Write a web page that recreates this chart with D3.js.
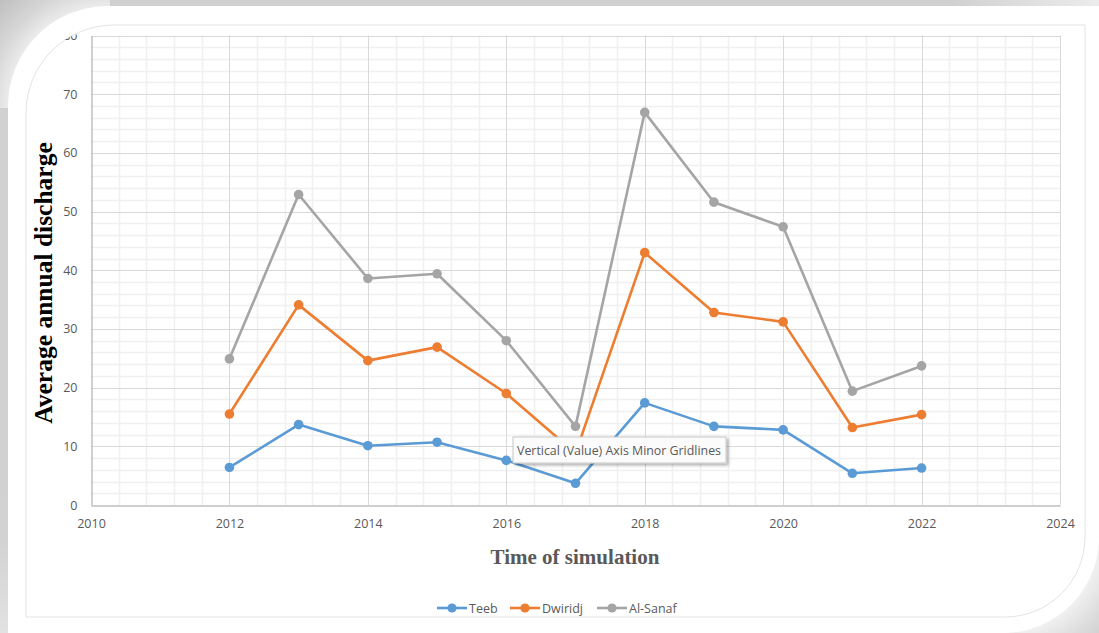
<!DOCTYPE html>
<html>
<head>
<meta charset="utf-8">
<script src="https://cdn.jsdelivr.net/npm/d3@7/dist/d3.min.js"></script>
<style>
  html, body { margin: 0; padding: 0; background: #ffffff; }
  svg { display: block; }
</style>
</head>
<body>
<svg id="chart" width="1099" height="633"></svg>
<script>
// Simulation years and average annual discharge per station
const years   = [2012, 2013, 2014, 2015, 2016, 2017, 2018, 2019, 2020, 2021, 2022];
const teeb    = [6.4, 13.7, 10.1, 10.7, 7.6, 3.7, 17.4, 13.4, 12.8, 5.4, 6.3];
const dwiridj = [15.5, 34.1, 24.6, 26.9, 19.0, 8.8, 43.0, 32.8, 31.2, 13.2, 15.4];
const alSanaf = [24.9, 52.9, 38.6, 39.4, 28.0, 13.4, 66.9, 51.6, 47.4, 19.4, 23.7];
const seriesNames = ["Teeb", "Dwiridj", "Al-Sanaf"];
const xTicks = [2010, 2012, 2014, 2016, 2018, 2020, 2022, 2024];
const yTicks = [0, 10, 20, 30, 40, 50, 60, 70, 80];

const colors = ["#5B9BD5", "#ED7D31", "#A5A5A5"];
const seriesValues = [teeb, dwiridj, alSanaf];

const svg = d3.select("#chart");
const W = 1099, H = 633;
const defs = svg.append("defs");

// ---- frame background ----
const gLeft = defs.append("linearGradient").attr("id", "leftBand")
  .attr("x1", 0).attr("x2", 0).attr("y1", 0).attr("y2", 1);
gLeft.append("stop").attr("offset", 0).attr("stop-color", "#d0d0d0");
gLeft.append("stop").attr("offset", 0.85).attr("stop-color", "#d2d2d2");
gLeft.append("stop").attr("offset", 1).attr("stop-color", "#e2e2e2");
svg.append("rect").attr("width", W).attr("height", H).attr("fill", "url(#leftBand)");

const gTL = defs.append("radialGradient").attr("id", "cornerTL")
  .attr("gradientUnits", "userSpaceOnUse").attr("cx", 108).attr("cy", 106).attr("r", 150);
gTL.append("stop").attr("offset", 0.66).attr("stop-color", "#ececec");
gTL.append("stop").attr("offset", 0.8).attr("stop-color", "#d6d6d6");
gTL.append("stop").attr("offset", 1).attr("stop-color", "#c0c0c0");
svg.append("rect").attr("x", 0).attr("y", 0).attr("width", 110).attr("height", 108)
  .attr("fill", "url(#cornerTL)");

const gBR = defs.append("radialGradient").attr("id", "cornerBR")
  .attr("gradientUnits", "userSpaceOnUse").attr("cx", 1003).attr("cy", 538).attr("r", 150);
gBR.append("stop").attr("offset", 0.62).attr("stop-color", "#f2f2f2");
gBR.append("stop").attr("offset", 0.8).attr("stop-color", "#dcdcdc");
gBR.append("stop").attr("offset", 1).attr("stop-color", "#c8c8c8");
svg.append("rect").attr("x", 960).attr("y", 500).attr("width", 139).attr("height", 133)
  .attr("fill", "url(#cornerBR)");

// lighter fade of the top band towards the right
const gTop = defs.append("linearGradient").attr("id", "topBand")
  .attr("x1", 0).attr("x2", 1).attr("y1", 0).attr("y2", 0);
gTop.append("stop").attr("offset", 0).attr("stop-color", "#d0d0d0");
gTop.append("stop").attr("offset", 0.85).attr("stop-color", "#d0d0d0");
gTop.append("stop").attr("offset", 1).attr("stop-color", "#ececec");
svg.append("rect").attr("x", 110).attr("y", 0).attr("width", W - 110).attr("height", 6)
  .attr("fill", "url(#topBand)");

// white card with rounded corners
svg.append("path")
  .attr("d", "M8,106 A100,100 0 0 1 108,6 L1099,6 L1099,540 A96,96 0 0 1 1005,633 L8,633 Z")
  .attr("fill", "#ffffff");

// thin inner border
const innerPath = "M26,113 A88,88 0 0 1 114,25 L1085,25 L1085,537 A80,80 0 0 1 1005,617 L26,617 Z";
svg.append("path").attr("d", innerPath).attr("fill", "none")
  .attr("stroke", "#e3e3e3").attr("stroke-width", 1);

defs.append("clipPath").attr("id", "innerClip").append("path").attr("d", innerPath);
defs.append("clipPath").attr("id", "topClip").append("rect")
  .attr("x", -200).attr("y", 34.5).attr("width", W + 200).attr("height", H);

// ---- scales ----
const x = d3.scaleLinear().domain([2010, 2024]).range([91, 1060]);
const y = d3.scaleLinear().domain([0, 80]).range([505, 35.5]);

const plot = svg.append("g").attr("clip-path", "url(#innerClip)");

// minor gridlines
const xMinor = d3.range(2010, 2024.001, 0.4).filter(v => Math.abs((v - 2010) % 2) > 0.01 && Math.abs((v - 2010) % 2 - 2) > 0.01);
const yMinor = d3.range(0, 80.001, 2).filter(v => v % 10 !== 0);

plot.append("g").selectAll("line").data(xMinor).join("line")
  .attr("x1", d => Math.round(x(d)) + 0.5).attr("x2", d => Math.round(x(d)) + 0.5)
  .attr("y1", y(80)).attr("y2", y(0))
  .attr("stroke", "#f0f0f0").attr("stroke-width", 1.5);
plot.append("g").selectAll("line").data(yMinor).join("line")
  .attr("x1", x(2010)).attr("x2", x(2024))
  .attr("y1", d => Math.round(y(d)) + 0.5).attr("y2", d => Math.round(y(d)) + 0.5)
  .attr("stroke", "#f0f0f0").attr("stroke-width", 1.5);

// major gridlines
plot.append("g").selectAll("line").data(xTicks.slice(1)).join("line")
  .attr("x1", d => Math.round(x(d)) + 0.5).attr("x2", d => Math.round(x(d)) + 0.5)
  .attr("y1", y(80)).attr("y2", y(0))
  .attr("stroke", "#d9d9d9").attr("stroke-width", 1);
plot.append("g").selectAll("line").data(yTicks.slice(1)).join("line")
  .attr("x1", x(2010)).attr("x2", x(2024))
  .attr("y1", d => Math.round(y(d)) + 0.5).attr("y2", d => Math.round(y(d)) + 0.5)
  .attr("stroke", "#d9d9d9").attr("stroke-width", 1);

// axes
const tickFont = "'Open Sans', 'Liberation Sans', sans-serif";
const xAxis = plot.append("g").attr("transform", `translate(0,${Math.round(y(0)) + 0.5})`)
  .call(d3.axisBottom(x).tickValues(xTicks).tickFormat(d3.format("d")).tickSize(0).tickPadding(14));
xAxis.select(".domain").attr("stroke", "#bfbfbf").attr("stroke-width", 1.5);
xAxis.selectAll("text").attr("fill", "#595959").attr("font-family", tickFont).attr("font-size", 12.5);

const yAxis = plot.append("g").attr("transform", `translate(${Math.round(x(2010)) + 0.5},0)`)
  .attr("clip-path", "url(#topClip)")
  .call(d3.axisLeft(y).tickValues(yTicks).tickFormat(d3.format("d")).tickSize(0).tickPadding(14));
yAxis.select(".domain").attr("stroke", "#bfbfbf").attr("stroke-width", 1.5);
yAxis.selectAll("text").attr("fill", "#595959").attr("font-family", tickFont).attr("font-size", 12.5);

// series lines and markers
const line = d3.line().x((d, i) => x(years[i])).y(d => y(d));
seriesValues.forEach((vals, k) => {
  const g = plot.append("g");
  g.append("path").datum(vals).attr("d", line)
    .attr("fill", "none").attr("stroke", colors[k]).attr("stroke-width", 2.6)
    .attr("stroke-linejoin", "round");
  g.selectAll("circle").data(vals).join("circle")
    .attr("cx", (d, i) => x(years[i])).attr("cy", d => y(d)).attr("r", 4.8)
    .attr("fill", colors[k]);
});

// axis titles
svg.append("text")
  .attr("transform", "translate(52,283) rotate(-90)")
  .attr("text-anchor", "middle")
  .attr("font-family", "'Liberation Serif', 'Times New Roman', serif")
  .attr("font-weight", "bold").attr("font-size", 25.5).attr("fill", "#000000")
  .text("Average annual discharge");

svg.append("text")
  .attr("x", 575).attr("y", 564)
  .attr("text-anchor", "middle")
  .attr("font-family", "'Liberation Serif', 'Times New Roman', serif")
  .attr("font-weight", "bold").attr("font-size", 21).attr("fill", "#595959")
  .text("Time of simulation");

// legend
const legendX = [437, 510, 597];
const legend = svg.append("g");
seriesNames.forEach((name, k) => {
  const lg = legend.append("g").attr("transform", `translate(${legendX[k]},608)`);
  lg.append("line").attr("x1", 0).attr("x2", 30).attr("y1", 0).attr("y2", 0)
    .attr("stroke", colors[k]).attr("stroke-width", 2.6);
  lg.append("circle").attr("cx", 15).attr("cy", 0).attr("r", 4.6).attr("fill", colors[k]);
  lg.append("text").attr("x", 32).attr("y", 4.5)
    .attr("font-family", tickFont).attr("font-size", 12.5).attr("fill", "#595959")
    .text(name);
});

// hover tip over the minor gridlines
const tip = svg.append("g").attr("transform", "translate(513,437)");
defs.append("filter").attr("id", "tipShadow").attr("x", -0.1).attr("y", -0.3).attr("width", 1.2).attr("height", 1.8)
  .append("feDropShadow").attr("dx", 2).attr("dy", 2).attr("stdDeviation", 1.5)
  .attr("flood-color", "#000").attr("flood-opacity", 0.3);
tip.append("rect").attr("width", 213).attr("height", 26)
  .attr("fill", "#fbfbfb").attr("stroke", "#c8c8c8").attr("stroke-width", 1)
  .attr("filter", "url(#tipShadow)");
tip.append("text").attr("x", 4).attr("y", 18)
  .attr("font-family", tickFont).attr("font-size", 13).attr("fill", "#595959")
  .attr("textLength", 204).attr("lengthAdjust", "spacingAndGlyphs")
  .text("Vertical (Value) Axis Minor Gridlines");
</script>
</body>
</html>
